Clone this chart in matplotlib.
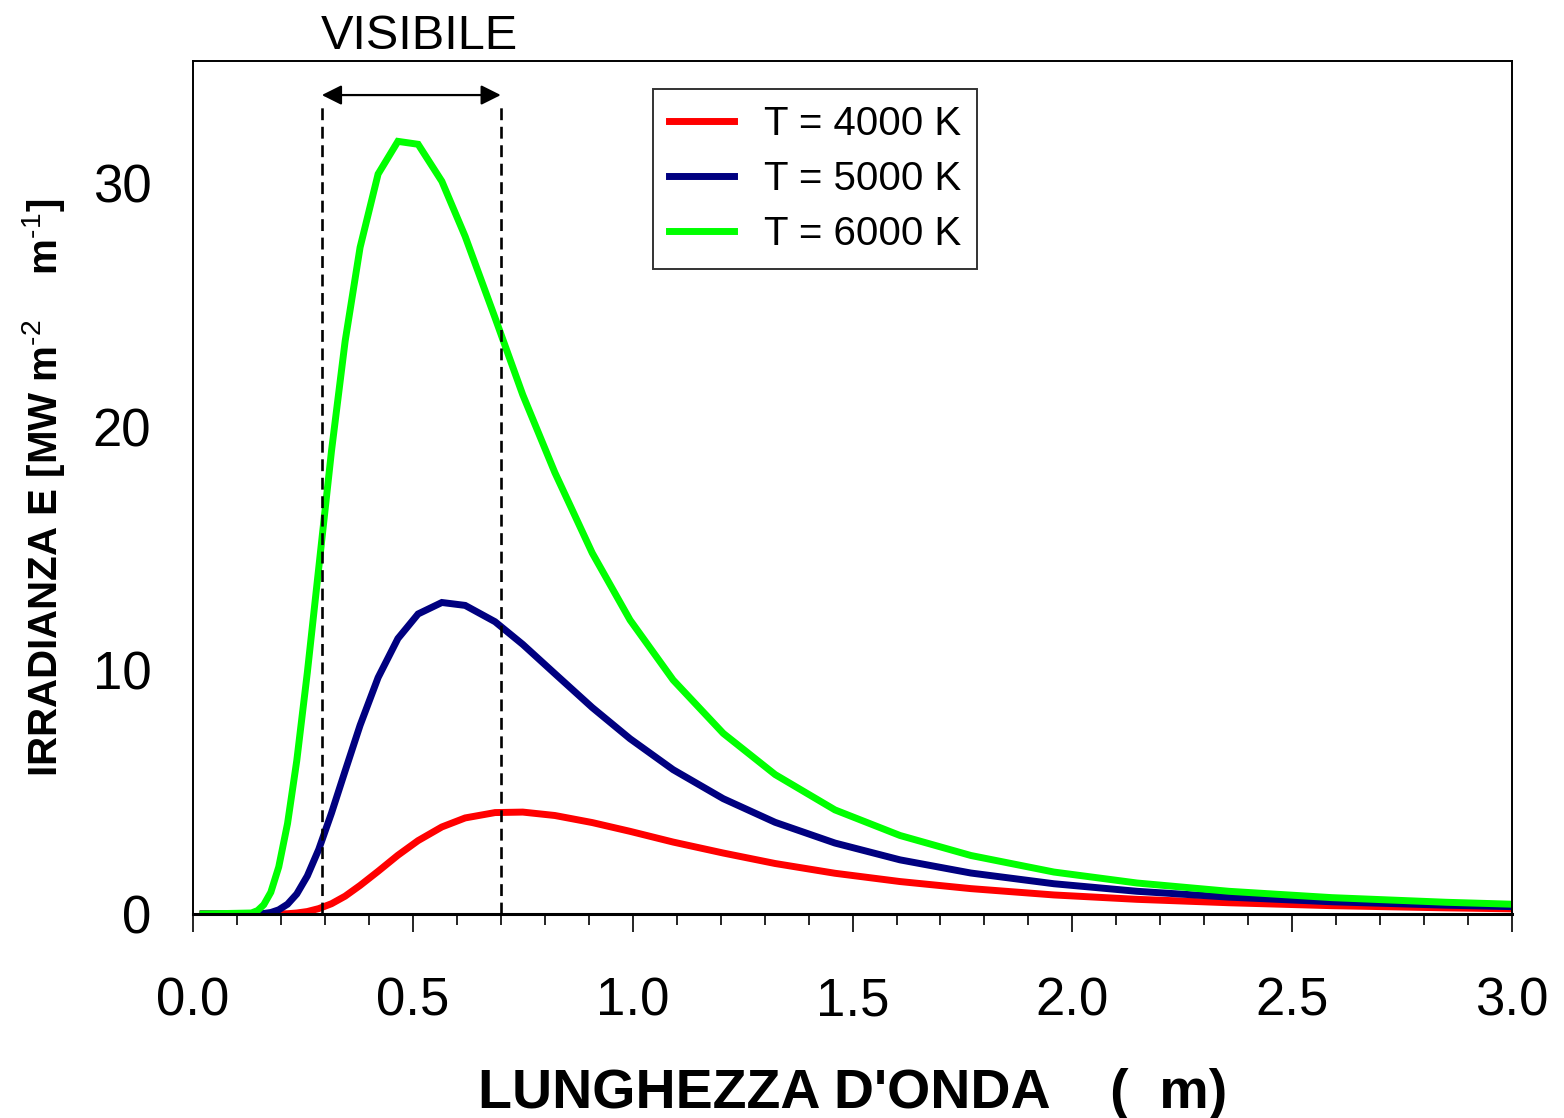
import matplotlib
matplotlib.use("Agg")
import matplotlib.pyplot as plt

plt.rcParams["font.family"] = ["Liberation Sans", "DejaVu Sans"]
plt.rcParams["mathtext.fontset"] = "custom"
plt.rcParams["mathtext.rm"] = "Liberation Sans"
plt.rcParams["mathtext.bf"] = "Liberation Sans:bold"
plt.rcParams["mathtext.default"] = "bf"

# wavelength samples (um) and spectral irradiance for three temperatures
wavelength = [0.023, 0.133, 0.147, 0.161, 0.177, 0.195, 0.215, 0.236, 0.260,
              0.286, 0.315, 0.346, 0.380, 0.421, 0.466, 0.512, 0.566, 0.619,
              0.687, 0.750, 0.823, 0.908, 0.994, 1.092, 1.206, 1.324, 1.460,
              1.608, 1.769, 1.958, 2.147, 2.356, 2.590, 2.850, 3.000]

e_4000 = [0.0, 0.0, 0.0, 0.0, 0.0, 0.0, 0.01, 0.04, 0.10, 0.22, 0.42, 0.73,
          1.17, 1.75, 2.41, 3.01, 3.57, 3.94, 4.16, 4.18, 4.04, 3.75, 3.39,
          2.95, 2.50, 2.07, 1.67, 1.33, 1.04, 0.78, 0.60, 0.46, 0.34, 0.25, 0.21]

e_5000 = [0.0, 0.001, 0.006, 0.02, 0.06, 0.17, 0.40, 0.82, 1.56, 2.65, 4.14,
          5.87, 7.74, 9.70, 11.30, 12.31, 12.78, 12.66, 11.99, 11.06, 9.86,
          8.47, 7.19, 5.92, 4.73, 3.76, 2.91, 2.22, 1.68, 1.24, 0.93, 0.69,
          0.50, 0.36, 0.30]

e_6000 = [0.0, 0.04, 0.14, 0.38, 0.89, 1.93, 3.71, 6.29, 9.90, 14.2, 19.0,
          23.5, 27.35, 30.36, 31.7, 31.58, 30.06, 27.8, 24.46, 21.3, 18.11,
          14.81, 12.06, 9.60, 7.41, 5.72, 4.27, 3.22, 2.40, 1.72, 1.27, 0.93,
          0.67, 0.48, 0.40]

series_labels = ["T = 4000 K", "T = 5000 K", "T = 6000 K"]
series_colors = ["#ff0000", "#000080", "#00ff00"]

visible_band = [0.293, 0.70]
x_ticks = [0.0, 0.5, 1.0, 1.5, 2.0, 2.5, 3.0]
y_ticks = [0, 10, 20, 30]

fig = plt.figure(figsize=(15.64, 11.18), dpi=100)
ax = fig.add_axes([0.1234, 0.1825, 0.8434, 0.7630])

for values, label, color in zip([e_4000, e_5000, e_6000], series_labels, series_colors):
    ax.plot(wavelength, values, color=color, lw=5, label=label,
            solid_joinstyle="miter")

# visible range: dashed bounds and a double-headed arrow
for xv in visible_band:
    ax.plot([xv, xv], [0, 33.3], color="black", lw=1.9, ls=(0, (4.5, 2.5)))
ax.annotate("", xy=(visible_band[0], 33.6), xytext=(visible_band[1], 33.6),
            arrowprops=dict(arrowstyle="<|-|>", color="black", lw=1.6,
                            mutation_scale=30, shrinkA=0, shrinkB=0),
            annotation_clip=False)
ax.text(0.515, 36.0, "VISIBILE", ha="center", va="center", fontsize=35,
        clip_on=False)

ax.set_xlim(0, 3.0)
ax.set_ylim(0, 35)
ax.set_xticks(x_ticks)
ax.set_xticklabels([f"{v:.1f}" for v in x_ticks])
ax.set_xticks([i / 10 for i in range(31)], minor=True)
ax.set_yticks(y_ticks)
ax.tick_params(axis="x", which="major", direction="out", length=13, width=1.2,
               pad=32, labelsize=38)
ax.tick_params(axis="x", which="minor", direction="out", length=8, width=1.2)
ax.tick_params(axis="y", which="major", length=0, pad=30, labelsize=38)

for side in ["left", "right", "top"]:
    ax.spines[side].set_linewidth(1.4)
ax.spines["bottom"].set_linewidth(2.2)

ax.set_xlabel("LUNGHEZZA D'ONDA    (  m)", fontsize=40, fontweight="bold")
ax.xaxis.set_label_coords(0.5, -0.181)
ax.set_ylabel("IRRADIANZA E [MW m$^{\\text{-2}}$    m$^{\\text{-1}}$]",
              fontsize=29, fontweight="bold")
ax.yaxis.set_label_coords(-0.113, 0.5)
ax.yaxis.label.set_va("center")

leg = ax.legend(loc="upper left", bbox_to_anchor=(0.349, 0.967), fontsize=29,
                frameon=True, fancybox=False, handlelength=1.6,
                handletextpad=0.75, borderpad=0.4, labelspacing=0.42,
                borderaxespad=0)
leg.get_frame().set_edgecolor("black")
leg.get_frame().set_linewidth(1.4)

fig.savefig("out.png", dpi=100)
